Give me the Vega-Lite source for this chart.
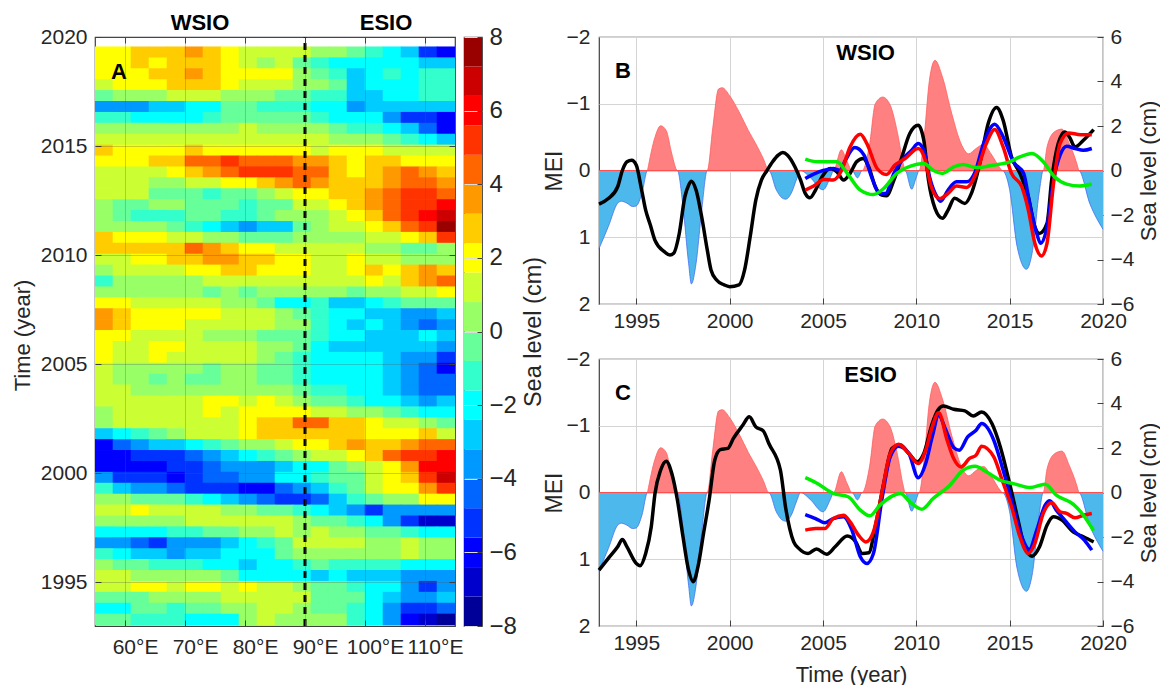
{"$schema":"https://vega.github.io/schema/vega-lite/v6.json","padding":{"left":10,"top":11,"right":0,"bottom":0},"background":"white","bounds":"flush","spacing":504,"config":{"font":"Liberation Sans","view":{"stroke":"#404040","strokeWidth":1.2},"axis":{"labelFont":"Liberation Sans","titleFont":"Liberation Sans","labelColor":"#262626","titleColor":"#262626","titleFontWeight":"normal","labelFontSize":21,"titleFontSize":22,"domain":false,"tickColor":"#404040","tickSize":-6,"labelPadding":12,"labelOverlap":false,"labelFlush":false}},"datasets":{"heat":[
{"x":56.5,"t":2019.3,"v":2},{"x":59.5,"t":2019.3,"v":2},{"x":62.5,"t":2019.3,"v":2.8},{"x":65.5,"t":2019.3,"v":2.8},{"x":68.5,"t":2019.3,"v":2.8},{"x":71.5,"t":2019.3,"v":3.6},{"x":74.5,"t":2019.3,"v":2.8},{"x":77.5,"t":2019.3,"v":2},{"x":80.5,"t":2019.3,"v":1.2},{"x":83.5,"t":2019.3,"v":1.2},{"x":86.5,"t":2019.3,"v":1.2},{"x":89.5,"t":2019.3,"v":1.2},{"x":92.5,"t":2019.3,"v":0.4},{"x":95.5,"t":2019.3,"v":0.4},{"x":98.5,"t":2019.3,"v":-0.4},{"x":101.5,"t":2019.3,"v":-1.2},{"x":104.5,"t":2019.3,"v":-2},{"x":107.5,"t":2019.3,"v":-2.8},{"x":110.5,"t":2019.3,"v":-5.2},{"x":113.5,"t":2019.3,"v":-6},
{"x":56.5,"t":2018.8,"v":2},{"x":59.5,"t":2018.8,"v":2},{"x":62.5,"t":2018.8,"v":2.8},{"x":65.5,"t":2018.8,"v":2},{"x":68.5,"t":2018.8,"v":2.8},{"x":71.5,"t":2018.8,"v":2.8},{"x":74.5,"t":2018.8,"v":2.8},{"x":77.5,"t":2018.8,"v":2},{"x":80.5,"t":2018.8,"v":1.2},{"x":83.5,"t":2018.8,"v":0.4},{"x":86.5,"t":2018.8,"v":1.2},{"x":89.5,"t":2018.8,"v":-0.4},{"x":92.5,"t":2018.8,"v":-1.2},{"x":95.5,"t":2018.8,"v":-2},{"x":98.5,"t":2018.8,"v":-2},{"x":101.5,"t":2018.8,"v":-2},{"x":104.5,"t":2018.8,"v":-2},{"x":107.5,"t":2018.8,"v":-2},{"x":110.5,"t":2018.8,"v":-2.8},{"x":113.5,"t":2018.8,"v":-2.8},
{"x":56.5,"t":2018.3,"v":2},{"x":59.5,"t":2018.3,"v":2},{"x":62.5,"t":2018.3,"v":2},{"x":65.5,"t":2018.3,"v":2.8},{"x":68.5,"t":2018.3,"v":2.8},{"x":71.5,"t":2018.3,"v":3.6},{"x":74.5,"t":2018.3,"v":2.8},{"x":77.5,"t":2018.3,"v":2},{"x":80.5,"t":2018.3,"v":2},{"x":83.5,"t":2018.3,"v":2},{"x":86.5,"t":2018.3,"v":2},{"x":89.5,"t":2018.3,"v":0.4},{"x":92.5,"t":2018.3,"v":-0.4},{"x":95.5,"t":2018.3,"v":-1.2},{"x":98.5,"t":2018.3,"v":-2.8},{"x":101.5,"t":2018.3,"v":-2},{"x":104.5,"t":2018.3,"v":-1.2},{"x":107.5,"t":2018.3,"v":-2},{"x":110.5,"t":2018.3,"v":-1.2},{"x":113.5,"t":2018.3,"v":-1.2},
{"x":56.5,"t":2017.8,"v":1.2},{"x":59.5,"t":2017.8,"v":2},{"x":62.5,"t":2017.8,"v":2},{"x":65.5,"t":2017.8,"v":2},{"x":68.5,"t":2017.8,"v":2.8},{"x":71.5,"t":2017.8,"v":2.8},{"x":74.5,"t":2017.8,"v":2.8},{"x":77.5,"t":2017.8,"v":2},{"x":80.5,"t":2017.8,"v":1.2},{"x":83.5,"t":2017.8,"v":1.2},{"x":86.5,"t":2017.8,"v":1.2},{"x":89.5,"t":2017.8,"v":0.4},{"x":92.5,"t":2017.8,"v":0.4},{"x":95.5,"t":2017.8,"v":-0.4},{"x":98.5,"t":2017.8,"v":-2.8},{"x":101.5,"t":2017.8,"v":-2},{"x":104.5,"t":2017.8,"v":-2},{"x":107.5,"t":2017.8,"v":-2},{"x":110.5,"t":2017.8,"v":-1.2},{"x":113.5,"t":2017.8,"v":-1.2},
{"x":56.5,"t":2017.3,"v":-0.4},{"x":59.5,"t":2017.3,"v":0.4},{"x":62.5,"t":2017.3,"v":0.4},{"x":65.5,"t":2017.3,"v":0.4},{"x":68.5,"t":2017.3,"v":1.2},{"x":71.5,"t":2017.3,"v":1.2},{"x":74.5,"t":2017.3,"v":1.2},{"x":77.5,"t":2017.3,"v":0.4},{"x":80.5,"t":2017.3,"v":0.4},{"x":83.5,"t":2017.3,"v":0.4},{"x":86.5,"t":2017.3,"v":-0.4},{"x":89.5,"t":2017.3,"v":-0.4},{"x":92.5,"t":2017.3,"v":-1.2},{"x":95.5,"t":2017.3,"v":-1.2},{"x":98.5,"t":2017.3,"v":-2.8},{"x":101.5,"t":2017.3,"v":-2.8},{"x":104.5,"t":2017.3,"v":-2},{"x":107.5,"t":2017.3,"v":-2},{"x":110.5,"t":2017.3,"v":-1.2},{"x":113.5,"t":2017.3,"v":-1.2},
{"x":56.5,"t":2016.8,"v":-3.6},{"x":59.5,"t":2016.8,"v":-3.6},{"x":62.5,"t":2016.8,"v":-3.6},{"x":65.5,"t":2016.8,"v":-2.8},{"x":68.5,"t":2016.8,"v":-2.8},{"x":71.5,"t":2016.8,"v":-2},{"x":74.5,"t":2016.8,"v":-2},{"x":77.5,"t":2016.8,"v":-0.4},{"x":80.5,"t":2016.8,"v":-0.4},{"x":83.5,"t":2016.8,"v":-1.2},{"x":86.5,"t":2016.8,"v":-1.2},{"x":89.5,"t":2016.8,"v":-1.2},{"x":92.5,"t":2016.8,"v":-2},{"x":95.5,"t":2016.8,"v":-2},{"x":98.5,"t":2016.8,"v":-3.6},{"x":101.5,"t":2016.8,"v":-2.8},{"x":104.5,"t":2016.8,"v":-2.8},{"x":107.5,"t":2016.8,"v":-2.8},{"x":110.5,"t":2016.8,"v":-2.8},{"x":113.5,"t":2016.8,"v":-2.8},
{"x":56.5,"t":2016.3,"v":-1.2},{"x":59.5,"t":2016.3,"v":-1.2},{"x":62.5,"t":2016.3,"v":-2},{"x":65.5,"t":2016.3,"v":-2},{"x":68.5,"t":2016.3,"v":-2},{"x":71.5,"t":2016.3,"v":-2},{"x":74.5,"t":2016.3,"v":-1.2},{"x":77.5,"t":2016.3,"v":-0.4},{"x":80.5,"t":2016.3,"v":-0.4},{"x":83.5,"t":2016.3,"v":-0.4},{"x":86.5,"t":2016.3,"v":-0.4},{"x":89.5,"t":2016.3,"v":-0.4},{"x":92.5,"t":2016.3,"v":-1.2},{"x":95.5,"t":2016.3,"v":-2},{"x":98.5,"t":2016.3,"v":-2},{"x":101.5,"t":2016.3,"v":-2},{"x":104.5,"t":2016.3,"v":-3.6},{"x":107.5,"t":2016.3,"v":-5.2},{"x":110.5,"t":2016.3,"v":-5.2},{"x":113.5,"t":2016.3,"v":-6},
{"x":56.5,"t":2015.8,"v":0.4},{"x":59.5,"t":2015.8,"v":0.4},{"x":62.5,"t":2015.8,"v":0.4},{"x":65.5,"t":2015.8,"v":0.4},{"x":68.5,"t":2015.8,"v":0.4},{"x":71.5,"t":2015.8,"v":0.4},{"x":74.5,"t":2015.8,"v":0.4},{"x":77.5,"t":2015.8,"v":0.4},{"x":80.5,"t":2015.8,"v":1.2},{"x":83.5,"t":2015.8,"v":0.4},{"x":86.5,"t":2015.8,"v":0.4},{"x":89.5,"t":2015.8,"v":0.4},{"x":92.5,"t":2015.8,"v":0.4},{"x":95.5,"t":2015.8,"v":-0.4},{"x":98.5,"t":2015.8,"v":-1.2},{"x":101.5,"t":2015.8,"v":-1.2},{"x":104.5,"t":2015.8,"v":-2},{"x":107.5,"t":2015.8,"v":-2.8},{"x":110.5,"t":2015.8,"v":-4.4},{"x":113.5,"t":2015.8,"v":-6},
{"x":56.5,"t":2015.3,"v":1.2},{"x":59.5,"t":2015.3,"v":1.2},{"x":62.5,"t":2015.3,"v":1.2},{"x":65.5,"t":2015.3,"v":1.2},{"x":68.5,"t":2015.3,"v":1.2},{"x":71.5,"t":2015.3,"v":1.2},{"x":74.5,"t":2015.3,"v":1.2},{"x":77.5,"t":2015.3,"v":1.2},{"x":80.5,"t":2015.3,"v":1.2},{"x":83.5,"t":2015.3,"v":1.2},{"x":86.5,"t":2015.3,"v":1.2},{"x":89.5,"t":2015.3,"v":1.2},{"x":92.5,"t":2015.3,"v":1.2},{"x":95.5,"t":2015.3,"v":0.4},{"x":98.5,"t":2015.3,"v":0.4},{"x":101.5,"t":2015.3,"v":0.4},{"x":104.5,"t":2015.3,"v":-0.4},{"x":107.5,"t":2015.3,"v":-1.2},{"x":110.5,"t":2015.3,"v":-2},{"x":113.5,"t":2015.3,"v":-2.8},
{"x":56.5,"t":2014.8,"v":2.8},{"x":59.5,"t":2014.8,"v":2},{"x":62.5,"t":2014.8,"v":2},{"x":65.5,"t":2014.8,"v":2},{"x":68.5,"t":2014.8,"v":2},{"x":71.5,"t":2014.8,"v":2.8},{"x":74.5,"t":2014.8,"v":2},{"x":77.5,"t":2014.8,"v":2},{"x":80.5,"t":2014.8,"v":2},{"x":83.5,"t":2014.8,"v":2},{"x":86.5,"t":2014.8,"v":2},{"x":89.5,"t":2014.8,"v":2},{"x":92.5,"t":2014.8,"v":1.2},{"x":95.5,"t":2014.8,"v":2},{"x":98.5,"t":2014.8,"v":2},{"x":101.5,"t":2014.8,"v":2},{"x":104.5,"t":2014.8,"v":1.2},{"x":107.5,"t":2014.8,"v":1.2},{"x":110.5,"t":2014.8,"v":1.2},{"x":113.5,"t":2014.8,"v":1.2},
{"x":56.5,"t":2014.3,"v":2},{"x":59.5,"t":2014.3,"v":2},{"x":62.5,"t":2014.3,"v":2},{"x":65.5,"t":2014.3,"v":2.8},{"x":68.5,"t":2014.3,"v":2.8},{"x":71.5,"t":2014.3,"v":4.4},{"x":74.5,"t":2014.3,"v":4.4},{"x":77.5,"t":2014.3,"v":5.2},{"x":80.5,"t":2014.3,"v":4.4},{"x":83.5,"t":2014.3,"v":4.4},{"x":86.5,"t":2014.3,"v":4.4},{"x":89.5,"t":2014.3,"v":3.6},{"x":92.5,"t":2014.3,"v":3.6},{"x":95.5,"t":2014.3,"v":2.8},{"x":98.5,"t":2014.3,"v":2},{"x":101.5,"t":2014.3,"v":2.8},{"x":104.5,"t":2014.3,"v":2.8},{"x":107.5,"t":2014.3,"v":2},{"x":110.5,"t":2014.3,"v":2},{"x":113.5,"t":2014.3,"v":2},
{"x":56.5,"t":2013.8,"v":1.2},{"x":59.5,"t":2013.8,"v":1.2},{"x":62.5,"t":2013.8,"v":1.2},{"x":65.5,"t":2013.8,"v":1.2},{"x":68.5,"t":2013.8,"v":2},{"x":71.5,"t":2013.8,"v":2.8},{"x":74.5,"t":2013.8,"v":3.6},{"x":77.5,"t":2013.8,"v":4.4},{"x":80.5,"t":2013.8,"v":5.2},{"x":83.5,"t":2013.8,"v":5.2},{"x":86.5,"t":2013.8,"v":5.2},{"x":89.5,"t":2013.8,"v":4.4},{"x":92.5,"t":2013.8,"v":4.4},{"x":95.5,"t":2013.8,"v":2.8},{"x":98.5,"t":2013.8,"v":2},{"x":101.5,"t":2013.8,"v":2.8},{"x":104.5,"t":2013.8,"v":3.6},{"x":107.5,"t":2013.8,"v":4.4},{"x":110.5,"t":2013.8,"v":3.6},{"x":113.5,"t":2013.8,"v":2.8},
{"x":56.5,"t":2013.3,"v":1.2},{"x":59.5,"t":2013.3,"v":1.2},{"x":62.5,"t":2013.3,"v":1.2},{"x":65.5,"t":2013.3,"v":0.4},{"x":68.5,"t":2013.3,"v":0.4},{"x":71.5,"t":2013.3,"v":1.2},{"x":74.5,"t":2013.3,"v":1.2},{"x":77.5,"t":2013.3,"v":2},{"x":80.5,"t":2013.3,"v":2},{"x":83.5,"t":2013.3,"v":2.8},{"x":86.5,"t":2013.3,"v":3.6},{"x":89.5,"t":2013.3,"v":4.4},{"x":92.5,"t":2013.3,"v":3.6},{"x":95.5,"t":2013.3,"v":2.8},{"x":98.5,"t":2013.3,"v":2.8},{"x":101.5,"t":2013.3,"v":2.8},{"x":104.5,"t":2013.3,"v":3.6},{"x":107.5,"t":2013.3,"v":4.4},{"x":110.5,"t":2013.3,"v":4.4},{"x":113.5,"t":2013.3,"v":3.6},
{"x":56.5,"t":2012.8,"v":1.2},{"x":59.5,"t":2012.8,"v":1.2},{"x":62.5,"t":2012.8,"v":1.2},{"x":65.5,"t":2012.8,"v":-0.4},{"x":68.5,"t":2012.8,"v":-0.4},{"x":71.5,"t":2012.8,"v":-0.4},{"x":74.5,"t":2012.8,"v":-1.2},{"x":77.5,"t":2012.8,"v":-0.4},{"x":80.5,"t":2012.8,"v":-0.4},{"x":83.5,"t":2012.8,"v":0.4},{"x":86.5,"t":2012.8,"v":1.2},{"x":89.5,"t":2012.8,"v":2},{"x":92.5,"t":2012.8,"v":2},{"x":95.5,"t":2012.8,"v":2.8},{"x":98.5,"t":2012.8,"v":2.8},{"x":101.5,"t":2012.8,"v":3.6},{"x":104.5,"t":2012.8,"v":4.4},{"x":107.5,"t":2012.8,"v":5.2},{"x":110.5,"t":2012.8,"v":5.2},{"x":113.5,"t":2012.8,"v":4.4},
{"x":56.5,"t":2012.3,"v":0.4},{"x":59.5,"t":2012.3,"v":-0.4},{"x":62.5,"t":2012.3,"v":-0.4},{"x":65.5,"t":2012.3,"v":0.4},{"x":68.5,"t":2012.3,"v":0.4},{"x":71.5,"t":2012.3,"v":-0.4},{"x":74.5,"t":2012.3,"v":-0.4},{"x":77.5,"t":2012.3,"v":-0.4},{"x":80.5,"t":2012.3,"v":-1.2},{"x":83.5,"t":2012.3,"v":-0.4},{"x":86.5,"t":2012.3,"v":-0.4},{"x":89.5,"t":2012.3,"v":1.2},{"x":92.5,"t":2012.3,"v":1.2},{"x":95.5,"t":2012.3,"v":2},{"x":98.5,"t":2012.3,"v":2.8},{"x":101.5,"t":2012.3,"v":3.6},{"x":104.5,"t":2012.3,"v":4.4},{"x":107.5,"t":2012.3,"v":5.2},{"x":110.5,"t":2012.3,"v":5.2},{"x":113.5,"t":2012.3,"v":6},
{"x":56.5,"t":2011.8,"v":0.4},{"x":59.5,"t":2011.8,"v":-0.4},{"x":62.5,"t":2011.8,"v":-1.2},{"x":65.5,"t":2011.8,"v":-1.2},{"x":68.5,"t":2011.8,"v":-1.2},{"x":71.5,"t":2011.8,"v":-0.4},{"x":74.5,"t":2011.8,"v":-0.4},{"x":77.5,"t":2011.8,"v":-1.2},{"x":80.5,"t":2011.8,"v":-1.2},{"x":83.5,"t":2011.8,"v":-0.4},{"x":86.5,"t":2011.8,"v":0.4},{"x":89.5,"t":2011.8,"v":0.4},{"x":92.5,"t":2011.8,"v":0.4},{"x":95.5,"t":2011.8,"v":1.2},{"x":98.5,"t":2011.8,"v":2},{"x":101.5,"t":2011.8,"v":2.8},{"x":104.5,"t":2011.8,"v":4.4},{"x":107.5,"t":2011.8,"v":5.2},{"x":110.5,"t":2011.8,"v":6},{"x":113.5,"t":2011.8,"v":6.8},
{"x":56.5,"t":2011.3,"v":0.4},{"x":59.5,"t":2011.3,"v":0.4},{"x":62.5,"t":2011.3,"v":0.4},{"x":65.5,"t":2011.3,"v":0.4},{"x":68.5,"t":2011.3,"v":-0.4},{"x":71.5,"t":2011.3,"v":-1.2},{"x":74.5,"t":2011.3,"v":-2},{"x":77.5,"t":2011.3,"v":-2.8},{"x":80.5,"t":2011.3,"v":-3.6},{"x":83.5,"t":2011.3,"v":-2.8},{"x":86.5,"t":2011.3,"v":-2.8},{"x":89.5,"t":2011.3,"v":-0.4},{"x":92.5,"t":2011.3,"v":0.4},{"x":95.5,"t":2011.3,"v":1.2},{"x":98.5,"t":2011.3,"v":1.2},{"x":101.5,"t":2011.3,"v":2},{"x":104.5,"t":2011.3,"v":2.8},{"x":107.5,"t":2011.3,"v":4.4},{"x":110.5,"t":2011.3,"v":5.2},{"x":113.5,"t":2011.3,"v":7.6},
{"x":56.5,"t":2010.8,"v":2.8},{"x":59.5,"t":2010.8,"v":2},{"x":62.5,"t":2010.8,"v":2},{"x":65.5,"t":2010.8,"v":2},{"x":68.5,"t":2010.8,"v":1.2},{"x":71.5,"t":2010.8,"v":1.2},{"x":74.5,"t":2010.8,"v":0.4},{"x":77.5,"t":2010.8,"v":0.4},{"x":80.5,"t":2010.8,"v":-0.4},{"x":83.5,"t":2010.8,"v":-0.4},{"x":86.5,"t":2010.8,"v":-0.4},{"x":89.5,"t":2010.8,"v":0.4},{"x":92.5,"t":2010.8,"v":0.4},{"x":95.5,"t":2010.8,"v":0.4},{"x":98.5,"t":2010.8,"v":0.4},{"x":101.5,"t":2010.8,"v":1.2},{"x":104.5,"t":2010.8,"v":1.2},{"x":107.5,"t":2010.8,"v":2},{"x":110.5,"t":2010.8,"v":2.8},{"x":113.5,"t":2010.8,"v":5.2},
{"x":56.5,"t":2010.3,"v":2.8},{"x":59.5,"t":2010.3,"v":2.8},{"x":62.5,"t":2010.3,"v":2.8},{"x":65.5,"t":2010.3,"v":2.8},{"x":68.5,"t":2010.3,"v":2.8},{"x":71.5,"t":2010.3,"v":4.4},{"x":74.5,"t":2010.3,"v":3.6},{"x":77.5,"t":2010.3,"v":2.8},{"x":80.5,"t":2010.3,"v":2},{"x":83.5,"t":2010.3,"v":2},{"x":86.5,"t":2010.3,"v":1.2},{"x":89.5,"t":2010.3,"v":1.2},{"x":92.5,"t":2010.3,"v":1.2},{"x":95.5,"t":2010.3,"v":1.2},{"x":98.5,"t":2010.3,"v":1.2},{"x":101.5,"t":2010.3,"v":0.4},{"x":104.5,"t":2010.3,"v":0.4},{"x":107.5,"t":2010.3,"v":-0.4},{"x":110.5,"t":2010.3,"v":-0.4},{"x":113.5,"t":2010.3,"v":0.4},
{"x":56.5,"t":2009.8,"v":1.2},{"x":59.5,"t":2009.8,"v":1.2},{"x":62.5,"t":2009.8,"v":2},{"x":65.5,"t":2009.8,"v":2},{"x":68.5,"t":2009.8,"v":2.8},{"x":71.5,"t":2009.8,"v":2.8},{"x":74.5,"t":2009.8,"v":3.6},{"x":77.5,"t":2009.8,"v":3.6},{"x":80.5,"t":2009.8,"v":2.8},{"x":83.5,"t":2009.8,"v":2.8},{"x":86.5,"t":2009.8,"v":2},{"x":89.5,"t":2009.8,"v":2},{"x":92.5,"t":2009.8,"v":1.2},{"x":95.5,"t":2009.8,"v":1.2},{"x":98.5,"t":2009.8,"v":2},{"x":101.5,"t":2009.8,"v":1.2},{"x":104.5,"t":2009.8,"v":1.2},{"x":107.5,"t":2009.8,"v":0.4},{"x":110.5,"t":2009.8,"v":0.4},{"x":113.5,"t":2009.8,"v":0.4},
{"x":56.5,"t":2009.3,"v":0.4},{"x":59.5,"t":2009.3,"v":1.2},{"x":62.5,"t":2009.3,"v":1.2},{"x":65.5,"t":2009.3,"v":1.2},{"x":68.5,"t":2009.3,"v":1.2},{"x":71.5,"t":2009.3,"v":2},{"x":74.5,"t":2009.3,"v":2},{"x":77.5,"t":2009.3,"v":2.8},{"x":80.5,"t":2009.3,"v":2.8},{"x":83.5,"t":2009.3,"v":2},{"x":86.5,"t":2009.3,"v":2},{"x":89.5,"t":2009.3,"v":2},{"x":92.5,"t":2009.3,"v":1.2},{"x":95.5,"t":2009.3,"v":1.2},{"x":98.5,"t":2009.3,"v":2},{"x":101.5,"t":2009.3,"v":2.8},{"x":104.5,"t":2009.3,"v":2},{"x":107.5,"t":2009.3,"v":2.8},{"x":110.5,"t":2009.3,"v":3.6},{"x":113.5,"t":2009.3,"v":2.8},
{"x":56.5,"t":2008.8,"v":-1.2},{"x":59.5,"t":2008.8,"v":0.4},{"x":62.5,"t":2008.8,"v":0.4},{"x":65.5,"t":2008.8,"v":0.4},{"x":68.5,"t":2008.8,"v":0.4},{"x":71.5,"t":2008.8,"v":0.4},{"x":74.5,"t":2008.8,"v":1.2},{"x":77.5,"t":2008.8,"v":1.2},{"x":80.5,"t":2008.8,"v":1.2},{"x":83.5,"t":2008.8,"v":1.2},{"x":86.5,"t":2008.8,"v":1.2},{"x":89.5,"t":2008.8,"v":1.2},{"x":92.5,"t":2008.8,"v":1.2},{"x":95.5,"t":2008.8,"v":1.2},{"x":98.5,"t":2008.8,"v":1.2},{"x":101.5,"t":2008.8,"v":2},{"x":104.5,"t":2008.8,"v":1.2},{"x":107.5,"t":2008.8,"v":2.8},{"x":110.5,"t":2008.8,"v":3.6},{"x":113.5,"t":2008.8,"v":4.4},
{"x":56.5,"t":2008.3,"v":0.4},{"x":59.5,"t":2008.3,"v":0.4},{"x":62.5,"t":2008.3,"v":0.4},{"x":65.5,"t":2008.3,"v":0.4},{"x":68.5,"t":2008.3,"v":0.4},{"x":71.5,"t":2008.3,"v":0.4},{"x":74.5,"t":2008.3,"v":-0.4},{"x":77.5,"t":2008.3,"v":0.4},{"x":80.5,"t":2008.3,"v":-0.4},{"x":83.5,"t":2008.3,"v":0.4},{"x":86.5,"t":2008.3,"v":0.4},{"x":89.5,"t":2008.3,"v":0.4},{"x":92.5,"t":2008.3,"v":0.4},{"x":95.5,"t":2008.3,"v":0.4},{"x":98.5,"t":2008.3,"v":-0.4},{"x":101.5,"t":2008.3,"v":0.4},{"x":104.5,"t":2008.3,"v":0.4},{"x":107.5,"t":2008.3,"v":1.2},{"x":110.5,"t":2008.3,"v":1.2},{"x":113.5,"t":2008.3,"v":2},
{"x":56.5,"t":2007.8,"v":2},{"x":59.5,"t":2007.8,"v":2},{"x":62.5,"t":2007.8,"v":1.2},{"x":65.5,"t":2007.8,"v":1.2},{"x":68.5,"t":2007.8,"v":1.2},{"x":71.5,"t":2007.8,"v":1.2},{"x":74.5,"t":2007.8,"v":1.2},{"x":77.5,"t":2007.8,"v":0.4},{"x":80.5,"t":2007.8,"v":0.4},{"x":83.5,"t":2007.8,"v":-0.4},{"x":86.5,"t":2007.8,"v":-2},{"x":89.5,"t":2007.8,"v":-2},{"x":92.5,"t":2007.8,"v":-1.2},{"x":95.5,"t":2007.8,"v":-2.8},{"x":98.5,"t":2007.8,"v":-2.8},{"x":101.5,"t":2007.8,"v":-2},{"x":104.5,"t":2007.8,"v":-1.2},{"x":107.5,"t":2007.8,"v":-0.4},{"x":110.5,"t":2007.8,"v":-0.4},{"x":113.5,"t":2007.8,"v":-0.4},
{"x":56.5,"t":2007.3,"v":3.6},{"x":59.5,"t":2007.3,"v":2.8},{"x":62.5,"t":2007.3,"v":2},{"x":65.5,"t":2007.3,"v":2},{"x":68.5,"t":2007.3,"v":2},{"x":71.5,"t":2007.3,"v":2},{"x":74.5,"t":2007.3,"v":2},{"x":77.5,"t":2007.3,"v":1.2},{"x":80.5,"t":2007.3,"v":1.2},{"x":83.5,"t":2007.3,"v":1.2},{"x":86.5,"t":2007.3,"v":0.4},{"x":89.5,"t":2007.3,"v":-0.4},{"x":92.5,"t":2007.3,"v":-1.2},{"x":95.5,"t":2007.3,"v":-2},{"x":98.5,"t":2007.3,"v":-2},{"x":101.5,"t":2007.3,"v":-2.8},{"x":104.5,"t":2007.3,"v":-2.8},{"x":107.5,"t":2007.3,"v":-3.6},{"x":110.5,"t":2007.3,"v":-3.6},{"x":113.5,"t":2007.3,"v":-2.8},
{"x":56.5,"t":2006.8,"v":3.6},{"x":59.5,"t":2006.8,"v":2.8},{"x":62.5,"t":2006.8,"v":2},{"x":65.5,"t":2006.8,"v":2},{"x":68.5,"t":2006.8,"v":2},{"x":71.5,"t":2006.8,"v":1.2},{"x":74.5,"t":2006.8,"v":1.2},{"x":77.5,"t":2006.8,"v":1.2},{"x":80.5,"t":2006.8,"v":1.2},{"x":83.5,"t":2006.8,"v":1.2},{"x":86.5,"t":2006.8,"v":0.4},{"x":89.5,"t":2006.8,"v":0.4},{"x":92.5,"t":2006.8,"v":-1.2},{"x":95.5,"t":2006.8,"v":-2},{"x":98.5,"t":2006.8,"v":-2.8},{"x":101.5,"t":2006.8,"v":-2},{"x":104.5,"t":2006.8,"v":-2.8},{"x":107.5,"t":2006.8,"v":-3.6},{"x":110.5,"t":2006.8,"v":-4.4},{"x":113.5,"t":2006.8,"v":-3.6},
{"x":56.5,"t":2006.3,"v":2},{"x":59.5,"t":2006.3,"v":2},{"x":62.5,"t":2006.3,"v":1.2},{"x":65.5,"t":2006.3,"v":1.2},{"x":68.5,"t":2006.3,"v":1.2},{"x":71.5,"t":2006.3,"v":1.2},{"x":74.5,"t":2006.3,"v":0.4},{"x":77.5,"t":2006.3,"v":0.4},{"x":80.5,"t":2006.3,"v":0.4},{"x":83.5,"t":2006.3,"v":-0.4},{"x":86.5,"t":2006.3,"v":-0.4},{"x":89.5,"t":2006.3,"v":-0.4},{"x":92.5,"t":2006.3,"v":-1.2},{"x":95.5,"t":2006.3,"v":-2},{"x":98.5,"t":2006.3,"v":-2},{"x":101.5,"t":2006.3,"v":-2.8},{"x":104.5,"t":2006.3,"v":-2.8},{"x":107.5,"t":2006.3,"v":-2.8},{"x":110.5,"t":2006.3,"v":-2},{"x":113.5,"t":2006.3,"v":-2.8},
{"x":56.5,"t":2005.8,"v":2},{"x":59.5,"t":2005.8,"v":1.2},{"x":62.5,"t":2005.8,"v":1.2},{"x":65.5,"t":2005.8,"v":2},{"x":68.5,"t":2005.8,"v":2},{"x":71.5,"t":2005.8,"v":1.2},{"x":74.5,"t":2005.8,"v":1.2},{"x":77.5,"t":2005.8,"v":1.2},{"x":80.5,"t":2005.8,"v":1.2},{"x":83.5,"t":2005.8,"v":0.4},{"x":86.5,"t":2005.8,"v":0.4},{"x":89.5,"t":2005.8,"v":-0.4},{"x":92.5,"t":2005.8,"v":-2},{"x":95.5,"t":2005.8,"v":-2.8},{"x":98.5,"t":2005.8,"v":-2.8},{"x":101.5,"t":2005.8,"v":-2.8},{"x":104.5,"t":2005.8,"v":-2.8},{"x":107.5,"t":2005.8,"v":-2.8},{"x":110.5,"t":2005.8,"v":-2.8},{"x":113.5,"t":2005.8,"v":-3.6},
{"x":56.5,"t":2005.3,"v":2},{"x":59.5,"t":2005.3,"v":1.2},{"x":62.5,"t":2005.3,"v":1.2},{"x":65.5,"t":2005.3,"v":2},{"x":68.5,"t":2005.3,"v":1.2},{"x":71.5,"t":2005.3,"v":1.2},{"x":74.5,"t":2005.3,"v":1.2},{"x":77.5,"t":2005.3,"v":1.2},{"x":80.5,"t":2005.3,"v":1.2},{"x":83.5,"t":2005.3,"v":0.4},{"x":86.5,"t":2005.3,"v":-0.4},{"x":89.5,"t":2005.3,"v":-1.2},{"x":92.5,"t":2005.3,"v":-2},{"x":95.5,"t":2005.3,"v":-2},{"x":98.5,"t":2005.3,"v":-2},{"x":101.5,"t":2005.3,"v":-2},{"x":104.5,"t":2005.3,"v":-2.8},{"x":107.5,"t":2005.3,"v":-3.6},{"x":110.5,"t":2005.3,"v":-3.6},{"x":113.5,"t":2005.3,"v":-5.2},
{"x":56.5,"t":2004.8,"v":1.2},{"x":59.5,"t":2004.8,"v":0.4},{"x":62.5,"t":2004.8,"v":0.4},{"x":65.5,"t":2004.8,"v":0.4},{"x":68.5,"t":2004.8,"v":0.4},{"x":71.5,"t":2004.8,"v":0.4},{"x":74.5,"t":2004.8,"v":-0.4},{"x":77.5,"t":2004.8,"v":0.4},{"x":80.5,"t":2004.8,"v":0.4},{"x":83.5,"t":2004.8,"v":-0.4},{"x":86.5,"t":2004.8,"v":-0.4},{"x":89.5,"t":2004.8,"v":-1.2},{"x":92.5,"t":2004.8,"v":-2},{"x":95.5,"t":2004.8,"v":-2},{"x":98.5,"t":2004.8,"v":-2},{"x":101.5,"t":2004.8,"v":-2},{"x":104.5,"t":2004.8,"v":-2.8},{"x":107.5,"t":2004.8,"v":-3.6},{"x":110.5,"t":2004.8,"v":-4.4},{"x":113.5,"t":2004.8,"v":-6},
{"x":56.5,"t":2004.3,"v":1.2},{"x":59.5,"t":2004.3,"v":0.4},{"x":62.5,"t":2004.3,"v":0.4},{"x":65.5,"t":2004.3,"v":-0.4},{"x":68.5,"t":2004.3,"v":0.4},{"x":71.5,"t":2004.3,"v":-0.4},{"x":74.5,"t":2004.3,"v":-0.4},{"x":77.5,"t":2004.3,"v":0.4},{"x":80.5,"t":2004.3,"v":0.4},{"x":83.5,"t":2004.3,"v":-0.4},{"x":86.5,"t":2004.3,"v":-0.4},{"x":89.5,"t":2004.3,"v":-1.2},{"x":92.5,"t":2004.3,"v":-2},{"x":95.5,"t":2004.3,"v":-2},{"x":98.5,"t":2004.3,"v":-2},{"x":101.5,"t":2004.3,"v":-2},{"x":104.5,"t":2004.3,"v":-2.8},{"x":107.5,"t":2004.3,"v":-3.6},{"x":110.5,"t":2004.3,"v":-4.4},{"x":113.5,"t":2004.3,"v":-4.4},
{"x":56.5,"t":2003.8,"v":1.2},{"x":59.5,"t":2003.8,"v":1.2},{"x":62.5,"t":2003.8,"v":0.4},{"x":65.5,"t":2003.8,"v":0.4},{"x":68.5,"t":2003.8,"v":0.4},{"x":71.5,"t":2003.8,"v":0.4},{"x":74.5,"t":2003.8,"v":0.4},{"x":77.5,"t":2003.8,"v":0.4},{"x":80.5,"t":2003.8,"v":0.4},{"x":83.5,"t":2003.8,"v":0.4},{"x":86.5,"t":2003.8,"v":0.4},{"x":89.5,"t":2003.8,"v":-0.4},{"x":92.5,"t":2003.8,"v":-1.2},{"x":95.5,"t":2003.8,"v":-1.2},{"x":98.5,"t":2003.8,"v":-2},{"x":101.5,"t":2003.8,"v":-2},{"x":104.5,"t":2003.8,"v":-2.8},{"x":107.5,"t":2003.8,"v":-3.6},{"x":110.5,"t":2003.8,"v":-4.4},{"x":113.5,"t":2003.8,"v":-4.4},
{"x":56.5,"t":2003.3,"v":1.2},{"x":59.5,"t":2003.3,"v":1.2},{"x":62.5,"t":2003.3,"v":1.2},{"x":65.5,"t":2003.3,"v":1.2},{"x":68.5,"t":2003.3,"v":1.2},{"x":71.5,"t":2003.3,"v":1.2},{"x":74.5,"t":2003.3,"v":2},{"x":77.5,"t":2003.3,"v":2},{"x":80.5,"t":2003.3,"v":1.2},{"x":83.5,"t":2003.3,"v":2},{"x":86.5,"t":2003.3,"v":1.2},{"x":89.5,"t":2003.3,"v":0.4},{"x":92.5,"t":2003.3,"v":-0.4},{"x":95.5,"t":2003.3,"v":-0.4},{"x":98.5,"t":2003.3,"v":-1.2},{"x":101.5,"t":2003.3,"v":-2},{"x":104.5,"t":2003.3,"v":-2},{"x":107.5,"t":2003.3,"v":-2.8},{"x":110.5,"t":2003.3,"v":-3.6},{"x":113.5,"t":2003.3,"v":-2.8},
{"x":56.5,"t":2002.8,"v":0.4},{"x":59.5,"t":2002.8,"v":1.2},{"x":62.5,"t":2002.8,"v":1.2},{"x":65.5,"t":2002.8,"v":1.2},{"x":68.5,"t":2002.8,"v":1.2},{"x":71.5,"t":2002.8,"v":1.2},{"x":74.5,"t":2002.8,"v":2},{"x":77.5,"t":2002.8,"v":1.2},{"x":80.5,"t":2002.8,"v":2},{"x":83.5,"t":2002.8,"v":2},{"x":86.5,"t":2002.8,"v":2},{"x":89.5,"t":2002.8,"v":2},{"x":92.5,"t":2002.8,"v":1.2},{"x":95.5,"t":2002.8,"v":1.2},{"x":98.5,"t":2002.8,"v":0.4},{"x":101.5,"t":2002.8,"v":0.4},{"x":104.5,"t":2002.8,"v":-0.4},{"x":107.5,"t":2002.8,"v":-1.2},{"x":110.5,"t":2002.8,"v":-2},{"x":113.5,"t":2002.8,"v":-2},
{"x":56.5,"t":2002.3,"v":0.4},{"x":59.5,"t":2002.3,"v":1.2},{"x":62.5,"t":2002.3,"v":1.2},{"x":65.5,"t":2002.3,"v":1.2},{"x":68.5,"t":2002.3,"v":1.2},{"x":71.5,"t":2002.3,"v":1.2},{"x":74.5,"t":2002.3,"v":1.2},{"x":77.5,"t":2002.3,"v":1.2},{"x":80.5,"t":2002.3,"v":2},{"x":83.5,"t":2002.3,"v":2.8},{"x":86.5,"t":2002.3,"v":2.8},{"x":89.5,"t":2002.3,"v":4.4},{"x":92.5,"t":2002.3,"v":4.4},{"x":95.5,"t":2002.3,"v":2.8},{"x":98.5,"t":2002.3,"v":2.8},{"x":101.5,"t":2002.3,"v":2},{"x":104.5,"t":2002.3,"v":1.2},{"x":107.5,"t":2002.3,"v":1.2},{"x":110.5,"t":2002.3,"v":0.4},{"x":113.5,"t":2002.3,"v":-0.4},
{"x":56.5,"t":2001.8,"v":-2.8},{"x":59.5,"t":2001.8,"v":-2},{"x":62.5,"t":2001.8,"v":-1.2},{"x":65.5,"t":2001.8,"v":-0.4},{"x":68.5,"t":2001.8,"v":0.4},{"x":71.5,"t":2001.8,"v":1.2},{"x":74.5,"t":2001.8,"v":1.2},{"x":77.5,"t":2001.8,"v":1.2},{"x":80.5,"t":2001.8,"v":2},{"x":83.5,"t":2001.8,"v":2.8},{"x":86.5,"t":2001.8,"v":2.8},{"x":89.5,"t":2001.8,"v":2.8},{"x":92.5,"t":2001.8,"v":2.8},{"x":95.5,"t":2001.8,"v":2.8},{"x":98.5,"t":2001.8,"v":2.8},{"x":101.5,"t":2001.8,"v":2},{"x":104.5,"t":2001.8,"v":2},{"x":107.5,"t":2001.8,"v":2},{"x":110.5,"t":2001.8,"v":2.8},{"x":113.5,"t":2001.8,"v":1.2},
{"x":56.5,"t":2001.3,"v":-6},{"x":59.5,"t":2001.3,"v":-4.4},{"x":62.5,"t":2001.3,"v":-3.6},{"x":65.5,"t":2001.3,"v":-2.8},{"x":68.5,"t":2001.3,"v":-2.8},{"x":71.5,"t":2001.3,"v":-2},{"x":74.5,"t":2001.3,"v":-1.2},{"x":77.5,"t":2001.3,"v":-0.4},{"x":80.5,"t":2001.3,"v":0.4},{"x":83.5,"t":2001.3,"v":0.4},{"x":86.5,"t":2001.3,"v":1.2},{"x":89.5,"t":2001.3,"v":2},{"x":92.5,"t":2001.3,"v":2},{"x":95.5,"t":2001.3,"v":2.8},{"x":98.5,"t":2001.3,"v":3.6},{"x":101.5,"t":2001.3,"v":2.8},{"x":104.5,"t":2001.3,"v":2.8},{"x":107.5,"t":2001.3,"v":3.6},{"x":110.5,"t":2001.3,"v":4.4},{"x":113.5,"t":2001.3,"v":4.4},
{"x":56.5,"t":2000.8,"v":-6},{"x":59.5,"t":2000.8,"v":-6},{"x":62.5,"t":2000.8,"v":-5.2},{"x":65.5,"t":2000.8,"v":-5.2},{"x":68.5,"t":2000.8,"v":-5.2},{"x":71.5,"t":2000.8,"v":-4.4},{"x":74.5,"t":2000.8,"v":-3.6},{"x":77.5,"t":2000.8,"v":-2.8},{"x":80.5,"t":2000.8,"v":-2},{"x":83.5,"t":2000.8,"v":-1.2},{"x":86.5,"t":2000.8,"v":-0.4},{"x":89.5,"t":2000.8,"v":0.4},{"x":92.5,"t":2000.8,"v":1.2},{"x":95.5,"t":2000.8,"v":1.2},{"x":98.5,"t":2000.8,"v":2},{"x":101.5,"t":2000.8,"v":2.8},{"x":104.5,"t":2000.8,"v":4.4},{"x":107.5,"t":2000.8,"v":5.2},{"x":110.5,"t":2000.8,"v":5.2},{"x":113.5,"t":2000.8,"v":6},
{"x":56.5,"t":2000.3,"v":-6},{"x":59.5,"t":2000.3,"v":-6},{"x":62.5,"t":2000.3,"v":-6},{"x":65.5,"t":2000.3,"v":-6},{"x":68.5,"t":2000.3,"v":-5.2},{"x":71.5,"t":2000.3,"v":-5.2},{"x":74.5,"t":2000.3,"v":-4.4},{"x":77.5,"t":2000.3,"v":-3.6},{"x":80.5,"t":2000.3,"v":-3.6},{"x":83.5,"t":2000.3,"v":-3.6},{"x":86.5,"t":2000.3,"v":-2.8},{"x":89.5,"t":2000.3,"v":-2},{"x":92.5,"t":2000.3,"v":-2},{"x":95.5,"t":2000.3,"v":-0.4},{"x":98.5,"t":2000.3,"v":0.4},{"x":101.5,"t":2000.3,"v":1.2},{"x":104.5,"t":2000.3,"v":2},{"x":107.5,"t":2000.3,"v":3.6},{"x":110.5,"t":2000.3,"v":6},{"x":113.5,"t":2000.3,"v":6},
{"x":56.5,"t":1999.8,"v":-3.6},{"x":59.5,"t":1999.8,"v":-5.2},{"x":62.5,"t":1999.8,"v":-5.2},{"x":65.5,"t":1999.8,"v":-5.2},{"x":68.5,"t":1999.8,"v":-6},{"x":71.5,"t":1999.8,"v":-5.2},{"x":74.5,"t":1999.8,"v":-4.4},{"x":77.5,"t":1999.8,"v":-4.4},{"x":80.5,"t":1999.8,"v":-3.6},{"x":83.5,"t":1999.8,"v":-3.6},{"x":86.5,"t":1999.8,"v":-2},{"x":89.5,"t":1999.8,"v":-2},{"x":92.5,"t":1999.8,"v":-1.2},{"x":95.5,"t":1999.8,"v":-0.4},{"x":98.5,"t":1999.8,"v":-0.4},{"x":101.5,"t":1999.8,"v":1.2},{"x":104.5,"t":1999.8,"v":2},{"x":107.5,"t":1999.8,"v":2.8},{"x":110.5,"t":1999.8,"v":5.2},{"x":113.5,"t":1999.8,"v":6.8},
{"x":56.5,"t":1999.3,"v":-1.2},{"x":59.5,"t":1999.3,"v":-2.8},{"x":62.5,"t":1999.3,"v":-3.6},{"x":65.5,"t":1999.3,"v":-3.6},{"x":68.5,"t":1999.3,"v":-4.4},{"x":71.5,"t":1999.3,"v":-5.2},{"x":74.5,"t":1999.3,"v":-5.2},{"x":77.5,"t":1999.3,"v":-5.2},{"x":80.5,"t":1999.3,"v":-6},{"x":83.5,"t":1999.3,"v":-6},{"x":86.5,"t":1999.3,"v":-4.4},{"x":89.5,"t":1999.3,"v":-3.6},{"x":92.5,"t":1999.3,"v":-2.8},{"x":95.5,"t":1999.3,"v":-1.2},{"x":98.5,"t":1999.3,"v":-0.4},{"x":101.5,"t":1999.3,"v":1.2},{"x":104.5,"t":1999.3,"v":2},{"x":107.5,"t":1999.3,"v":2},{"x":110.5,"t":1999.3,"v":3.6},{"x":113.5,"t":1999.3,"v":5.2},
{"x":56.5,"t":1998.8,"v":0.4},{"x":59.5,"t":1998.8,"v":0.4},{"x":62.5,"t":1998.8,"v":-0.4},{"x":65.5,"t":1998.8,"v":-0.4},{"x":68.5,"t":1998.8,"v":-0.4},{"x":71.5,"t":1998.8,"v":-1.2},{"x":74.5,"t":1998.8,"v":-2},{"x":77.5,"t":1998.8,"v":-2.8},{"x":80.5,"t":1998.8,"v":-3.6},{"x":83.5,"t":1998.8,"v":-4.4},{"x":86.5,"t":1998.8,"v":-5.2},{"x":89.5,"t":1998.8,"v":-5.2},{"x":92.5,"t":1998.8,"v":-4.4},{"x":95.5,"t":1998.8,"v":-2.8},{"x":98.5,"t":1998.8,"v":-1.2},{"x":101.5,"t":1998.8,"v":-0.4},{"x":104.5,"t":1998.8,"v":0.4},{"x":107.5,"t":1998.8,"v":0.4},{"x":110.5,"t":1998.8,"v":2},{"x":113.5,"t":1998.8,"v":2},
{"x":56.5,"t":1998.3,"v":1.2},{"x":59.5,"t":1998.3,"v":1.2},{"x":62.5,"t":1998.3,"v":2},{"x":65.5,"t":1998.3,"v":1.2},{"x":68.5,"t":1998.3,"v":1.2},{"x":71.5,"t":1998.3,"v":1.2},{"x":74.5,"t":1998.3,"v":1.2},{"x":77.5,"t":1998.3,"v":0.4},{"x":80.5,"t":1998.3,"v":0.4},{"x":83.5,"t":1998.3,"v":-0.4},{"x":86.5,"t":1998.3,"v":-0.4},{"x":89.5,"t":1998.3,"v":-1.2},{"x":92.5,"t":1998.3,"v":-2},{"x":95.5,"t":1998.3,"v":-2.8},{"x":98.5,"t":1998.3,"v":-3.6},{"x":101.5,"t":1998.3,"v":-5.2},{"x":104.5,"t":1998.3,"v":-3.6},{"x":107.5,"t":1998.3,"v":-3.6},{"x":110.5,"t":1998.3,"v":-3.6},{"x":113.5,"t":1998.3,"v":-3.6},
{"x":56.5,"t":1997.8,"v":0.4},{"x":59.5,"t":1997.8,"v":0.4},{"x":62.5,"t":1997.8,"v":0.4},{"x":65.5,"t":1997.8,"v":0.4},{"x":68.5,"t":1997.8,"v":0.4},{"x":71.5,"t":1997.8,"v":1.2},{"x":74.5,"t":1997.8,"v":1.2},{"x":77.5,"t":1997.8,"v":1.2},{"x":80.5,"t":1997.8,"v":1.2},{"x":83.5,"t":1997.8,"v":1.2},{"x":86.5,"t":1997.8,"v":1.2},{"x":89.5,"t":1997.8,"v":0.4},{"x":92.5,"t":1997.8,"v":-0.4},{"x":95.5,"t":1997.8,"v":-0.4},{"x":98.5,"t":1997.8,"v":-1.2},{"x":101.5,"t":1997.8,"v":-2},{"x":104.5,"t":1997.8,"v":-3.6},{"x":107.5,"t":1997.8,"v":-5.2},{"x":110.5,"t":1997.8,"v":-6.8},{"x":113.5,"t":1997.8,"v":-6.8},
{"x":56.5,"t":1997.3,"v":-2},{"x":59.5,"t":1997.3,"v":-2},{"x":62.5,"t":1997.3,"v":-2},{"x":65.5,"t":1997.3,"v":-2},{"x":68.5,"t":1997.3,"v":-1.2},{"x":71.5,"t":1997.3,"v":-1.2},{"x":74.5,"t":1997.3,"v":-0.4},{"x":77.5,"t":1997.3,"v":-0.4},{"x":80.5,"t":1997.3,"v":0.4},{"x":83.5,"t":1997.3,"v":0.4},{"x":86.5,"t":1997.3,"v":1.2},{"x":89.5,"t":1997.3,"v":0.4},{"x":92.5,"t":1997.3,"v":1.2},{"x":95.5,"t":1997.3,"v":0.4},{"x":98.5,"t":1997.3,"v":0.4},{"x":101.5,"t":1997.3,"v":-0.4},{"x":104.5,"t":1997.3,"v":-0.4},{"x":107.5,"t":1997.3,"v":-1.2},{"x":110.5,"t":1997.3,"v":-2},{"x":113.5,"t":1997.3,"v":-2},
{"x":56.5,"t":1996.8,"v":-3.6},{"x":59.5,"t":1996.8,"v":-3.6},{"x":62.5,"t":1996.8,"v":-4.4},{"x":65.5,"t":1996.8,"v":-5.2},{"x":68.5,"t":1996.8,"v":-3.6},{"x":71.5,"t":1996.8,"v":-3.6},{"x":74.5,"t":1996.8,"v":-3.6},{"x":77.5,"t":1996.8,"v":-2.8},{"x":80.5,"t":1996.8,"v":-2},{"x":83.5,"t":1996.8,"v":-1.2},{"x":86.5,"t":1996.8,"v":-0.4},{"x":89.5,"t":1996.8,"v":1.2},{"x":92.5,"t":1996.8,"v":1.2},{"x":95.5,"t":1996.8,"v":1.2},{"x":98.5,"t":1996.8,"v":1.2},{"x":101.5,"t":1996.8,"v":0.4},{"x":104.5,"t":1996.8,"v":0.4},{"x":107.5,"t":1996.8,"v":1.2},{"x":110.5,"t":1996.8,"v":0.4},{"x":113.5,"t":1996.8,"v":0.4},
{"x":56.5,"t":1996.3,"v":-1.2},{"x":59.5,"t":1996.3,"v":-2},{"x":62.5,"t":1996.3,"v":-2.8},{"x":65.5,"t":1996.3,"v":-2.8},{"x":68.5,"t":1996.3,"v":-3.6},{"x":71.5,"t":1996.3,"v":-2.8},{"x":74.5,"t":1996.3,"v":-2.8},{"x":77.5,"t":1996.3,"v":-2},{"x":80.5,"t":1996.3,"v":-2},{"x":83.5,"t":1996.3,"v":-2},{"x":86.5,"t":1996.3,"v":-0.4},{"x":89.5,"t":1996.3,"v":0.4},{"x":92.5,"t":1996.3,"v":0.4},{"x":95.5,"t":1996.3,"v":0.4},{"x":98.5,"t":1996.3,"v":0.4},{"x":101.5,"t":1996.3,"v":0.4},{"x":104.5,"t":1996.3,"v":0.4},{"x":107.5,"t":1996.3,"v":1.2},{"x":110.5,"t":1996.3,"v":0.4},{"x":113.5,"t":1996.3,"v":0.4},
{"x":56.5,"t":1995.8,"v":0.4},{"x":59.5,"t":1995.8,"v":-0.4},{"x":62.5,"t":1995.8,"v":-0.4},{"x":65.5,"t":1995.8,"v":-1.2},{"x":68.5,"t":1995.8,"v":-1.2},{"x":71.5,"t":1995.8,"v":-1.2},{"x":74.5,"t":1995.8,"v":-2},{"x":77.5,"t":1995.8,"v":-2},{"x":80.5,"t":1995.8,"v":-2.8},{"x":83.5,"t":1995.8,"v":-2},{"x":86.5,"t":1995.8,"v":-2},{"x":89.5,"t":1995.8,"v":-1.2},{"x":92.5,"t":1995.8,"v":-0.4},{"x":95.5,"t":1995.8,"v":-1.2},{"x":98.5,"t":1995.8,"v":-1.2},{"x":101.5,"t":1995.8,"v":-1.2},{"x":104.5,"t":1995.8,"v":-1.2},{"x":107.5,"t":1995.8,"v":-2},{"x":110.5,"t":1995.8,"v":-2},{"x":113.5,"t":1995.8,"v":-2},
{"x":56.5,"t":1995.3,"v":1.2},{"x":59.5,"t":1995.3,"v":1.2},{"x":62.5,"t":1995.3,"v":0.4},{"x":65.5,"t":1995.3,"v":0.4},{"x":68.5,"t":1995.3,"v":0.4},{"x":71.5,"t":1995.3,"v":0.4},{"x":74.5,"t":1995.3,"v":0.4},{"x":77.5,"t":1995.3,"v":-0.4},{"x":80.5,"t":1995.3,"v":-2},{"x":83.5,"t":1995.3,"v":-2},{"x":86.5,"t":1995.3,"v":-2},{"x":89.5,"t":1995.3,"v":-2},{"x":92.5,"t":1995.3,"v":-2.8},{"x":95.5,"t":1995.3,"v":-2},{"x":98.5,"t":1995.3,"v":-2.8},{"x":101.5,"t":1995.3,"v":-2.8},{"x":104.5,"t":1995.3,"v":-2.8},{"x":107.5,"t":1995.3,"v":-3.6},{"x":110.5,"t":1995.3,"v":-3.6},{"x":113.5,"t":1995.3,"v":-3.6},
{"x":56.5,"t":1994.8,"v":1.2},{"x":59.5,"t":1994.8,"v":1.2},{"x":62.5,"t":1994.8,"v":2},{"x":65.5,"t":1994.8,"v":2},{"x":68.5,"t":1994.8,"v":1.2},{"x":71.5,"t":1994.8,"v":2},{"x":74.5,"t":1994.8,"v":2},{"x":77.5,"t":1994.8,"v":1.2},{"x":80.5,"t":1994.8,"v":2},{"x":83.5,"t":1994.8,"v":1.2},{"x":86.5,"t":1994.8,"v":1.2},{"x":89.5,"t":1994.8,"v":0.4},{"x":92.5,"t":1994.8,"v":-0.4},{"x":95.5,"t":1994.8,"v":-0.4},{"x":98.5,"t":1994.8,"v":-1.2},{"x":101.5,"t":1994.8,"v":-2},{"x":104.5,"t":1994.8,"v":-2},{"x":107.5,"t":1994.8,"v":-3.6},{"x":110.5,"t":1994.8,"v":-5.2},{"x":113.5,"t":1994.8,"v":-3.6},
{"x":56.5,"t":1994.3,"v":-0.4},{"x":59.5,"t":1994.3,"v":-0.4},{"x":62.5,"t":1994.3,"v":-0.4},{"x":65.5,"t":1994.3,"v":0.4},{"x":68.5,"t":1994.3,"v":0.4},{"x":71.5,"t":1994.3,"v":0.4},{"x":74.5,"t":1994.3,"v":0.4},{"x":77.5,"t":1994.3,"v":1.2},{"x":80.5,"t":1994.3,"v":1.2},{"x":83.5,"t":1994.3,"v":1.2},{"x":86.5,"t":1994.3,"v":1.2},{"x":89.5,"t":1994.3,"v":1.2},{"x":92.5,"t":1994.3,"v":-0.4},{"x":95.5,"t":1994.3,"v":-0.4},{"x":98.5,"t":1994.3,"v":-0.4},{"x":101.5,"t":1994.3,"v":-2},{"x":104.5,"t":1994.3,"v":-2.8},{"x":107.5,"t":1994.3,"v":-3.6},{"x":110.5,"t":1994.3,"v":-3.6},{"x":113.5,"t":1994.3,"v":-2.8},
{"x":56.5,"t":1993.8,"v":-2},{"x":59.5,"t":1993.8,"v":-2},{"x":62.5,"t":1993.8,"v":-0.4},{"x":65.5,"t":1993.8,"v":-0.4},{"x":68.5,"t":1993.8,"v":-1.2},{"x":71.5,"t":1993.8,"v":-0.4},{"x":74.5,"t":1993.8,"v":-0.4},{"x":77.5,"t":1993.8,"v":0.4},{"x":80.5,"t":1993.8,"v":0.4},{"x":83.5,"t":1993.8,"v":1.2},{"x":86.5,"t":1993.8,"v":1.2},{"x":89.5,"t":1993.8,"v":0.4},{"x":92.5,"t":1993.8,"v":-0.4},{"x":95.5,"t":1993.8,"v":-0.4},{"x":98.5,"t":1993.8,"v":-1.2},{"x":101.5,"t":1993.8,"v":-2},{"x":104.5,"t":1993.8,"v":-3.6},{"x":107.5,"t":1993.8,"v":-5.2},{"x":110.5,"t":1993.8,"v":-5.2},{"x":113.5,"t":1993.8,"v":-4.4},
{"x":56.5,"t":1993.3,"v":-0.4},{"x":59.5,"t":1993.3,"v":-0.4},{"x":62.5,"t":1993.3,"v":-1.2},{"x":65.5,"t":1993.3,"v":-1.2},{"x":68.5,"t":1993.3,"v":-1.2},{"x":71.5,"t":1993.3,"v":-2},{"x":74.5,"t":1993.3,"v":-2},{"x":77.5,"t":1993.3,"v":-2},{"x":80.5,"t":1993.3,"v":0.4},{"x":83.5,"t":1993.3,"v":1.2},{"x":86.5,"t":1993.3,"v":0.4},{"x":89.5,"t":1993.3,"v":0.4},{"x":92.5,"t":1993.3,"v":0.4},{"x":95.5,"t":1993.3,"v":0.4},{"x":98.5,"t":1993.3,"v":-1.2},{"x":101.5,"t":1993.3,"v":-2},{"x":104.5,"t":1993.3,"v":-3.6},{"x":107.5,"t":1993.3,"v":-6},{"x":110.5,"t":1993.3,"v":-6.8},{"x":113.5,"t":1993.3,"v":-7.6}
],"cbar":[{"lo":-8,"hi":-7.2,"v":-7.6},{"lo":-7.2,"hi":-6.4,"v":-6.8},{"lo":-6.4,"hi":-5.6,"v":-6},{"lo":-5.6,"hi":-4.8,"v":-5.2},{"lo":-4.8,"hi":-4,"v":-4.4},{"lo":-4,"hi":-3.2,"v":-3.6},{"lo":-3.2,"hi":-2.4,"v":-2.8},{"lo":-2.4,"hi":-1.6,"v":-2},{"lo":-1.6,"hi":-0.8,"v":-1.2},{"lo":-0.8,"hi":0,"v":-0.4},{"lo":0,"hi":0.8,"v":0.4},{"lo":0.8,"hi":1.6,"v":1.2},{"lo":1.6,"hi":2.4,"v":2},{"lo":2.4,"hi":3.2,"v":2.8},{"lo":3.2,"hi":4,"v":3.6},{"lo":4,"hi":4.8,"v":4.4},{"lo":4.8,"hi":5.6,"v":5.2},{"lo":5.6,"hi":6.4,"v":6},{"lo":6.4,"hi":7.2,"v":6.8},{"lo":7.2,"hi":8,"v":7.6}],
"mei":[{"t":1993,"mei":1.17},{"t":1993.5,"mei":0.84},{"t":1994,"mei":0.49},{"t":1994.2,"mei":0.46},{"t":1994.5,"mei":0.49},{"t":1994.8,"mei":0.54},{"t":1995,"mei":0.53},{"t":1995.3,"mei":0.34},{"t":1995.6,"mei":0},{"t":1996,"mei":-0.5},{"t":1996.3,"mei":-0.67},{"t":1996.6,"mei":-0.6},{"t":1996.9,"mei":-0.25},{"t":1997.2,"mei":0},{"t":1997.5,"mei":0.54},{"t":1997.8,"mei":1.39},{"t":1997.95,"mei":1.7},{"t":1998.2,"mei":1.39},{"t":1998.5,"mei":0.6},{"t":1998.8,"mei":0},{"t":1999.1,"mei":-0.65},{"t":1999.4,"mei":-1.22},{"t":1999.6,"mei":-1.24},{"t":2000,"mei":-1.12},{"t":2000.5,"mei":-0.88},{"t":2001,"mei":-0.6},{"t":2001.4,"mei":-0.4},{"t":2001.8,"mei":-0.18},{"t":2002.1,"mei":0},{"t":2002.5,"mei":0.29},{"t":2002.8,"mei":0.41},{"t":2003,"mei":0.43},{"t":2003.3,"mei":0.34},{"t":2003.6,"mei":0.12},{"t":2003.8,"mei":0},{"t":2004.3,"mei":0.1},{"t":2005,"mei":0.29},{"t":2005.4,"mei":0.1},{"t":2005.57,"mei":0},{"t":2005.98,"mei":-0.31},{"t":2006.3,"mei":-0.13},{"t":2006.55,"mei":0},{"t":2006.85,"mei":0.11},{"t":2007.1,"mei":0},{"t":2007.5,"mei":-0.4},{"t":2007.8,"mei":-1},{"t":2008.2,"mei":-1.1},{"t":2008.6,"mei":-0.98},{"t":2009,"mei":-0.55},{"t":2009.3,"mei":-0.1},{"t":2009.4,"mei":0},{"t":2009.75,"mei":0.28},{"t":2010,"mei":0.1},{"t":2010.15,"mei":0},{"t":2010.4,"mei":-0.45},{"t":2010.7,"mei":-1.35},{"t":2011,"mei":-1.65},{"t":2011.4,"mei":-1.4},{"t":2011.9,"mei":-0.85},{"t":2012.4,"mei":-0.4},{"t":2012.8,"mei":-0.25},{"t":2013.2,"mei":-0.33},{"t":2013.6,"mei":-0.39},{"t":2014,"mei":-0.25},{"t":2014.5,"mei":-0.03},{"t":2014.6,"mei":0},{"t":2015,"mei":0.29},{"t":2015.4,"mei":1.14},{"t":2015.9,"mei":1.48},{"t":2016.2,"mei":1.24},{"t":2016.6,"mei":0.29},{"t":2016.8,"mei":0},{"t":2017,"mei":-0.35},{"t":2017.4,"mei":-0.58},{"t":2017.8,"mei":-0.62},{"t":2018.2,"mei":-0.4},{"t":2018.6,"mei":-0.1},{"t":2018.7,"mei":0},{"t":2019.3,"mei":0.5},{"t":2020,"mei":0.88}],
"zero":[{"z":0}],
"lb":[{"t":1994.28,"m":-1.49,"l":"B"},{"t":2007.28,"m":-1.76,"l":"WSIO"}],
"lc":[{"t":1994.28,"m":-1.49,"l":"C"},{"t":2007.55,"m":-1.76,"l":"ESIO"}],
"b":[{"s":"k","t":1993,"v":-1.51},{"s":"k","t":1993.5,"v":-1.26},{"s":"k","t":1994,"v":-0.73},{"s":"k","t":1994.25,"v":0},{"s":"k","t":1994.5,"v":0.39},{"s":"k","t":1994.75,"v":0.46},{"s":"k","t":1995,"v":0.24},{"s":"k","t":1995.25,"v":-0.73},{"s":"k","t":1995.5,"v":-1.78},{"s":"k","t":1995.75,"v":-2.45},{"s":"k","t":1996,"v":-3.14},{"s":"k","t":1996.5,"v":-3.65},{"s":"k","t":1996.8,"v":-3.8},{"s":"k","t":1997,"v":-3.72},{"s":"k","t":1997.3,"v":-2.83},{"s":"k","t":1997.6,"v":-1.18},{"s":"k","t":1997.8,"v":-0.66},{"s":"k","t":1997.95,"v":-0.48},{"s":"k","t":1998.2,"v":-0.88},{"s":"k","t":1998.5,"v":-2.08},{"s":"k","t":1998.8,"v":-3.57},{"s":"k","t":1999,"v":-4.47},{"s":"k","t":1999.3,"v":-4.92},{"s":"k","t":1999.7,"v":-5.14},{"s":"k","t":2000,"v":-5.22},{"s":"k","t":2000.5,"v":-5.14},{"s":"k","t":2000.8,"v":-4.47},{"s":"k","t":2001.1,"v":-2.97},{"s":"k","t":2001.4,"v":-1.33},{"s":"k","t":2001.7,"v":-0.43},{"s":"k","t":2002,"v":0},{"s":"k","t":2002.3,"v":0.39},{"s":"k","t":2002.6,"v":0.69},{"s":"k","t":2002.85,"v":0.81},{"s":"k","t":2003.1,"v":0.69},{"s":"k","t":2003.5,"v":0.16},{"s":"k","t":2003.8,"v":-0.43},{"s":"k","t":2004.05,"v":-1.03},{"s":"k","t":2004.3,"v":-1.23},{"s":"k","t":2004.6,"v":-0.88},{"s":"k","t":2004.95,"v":-0.28},{"s":"k","t":2005.4,"v":0.09},{"s":"k","t":2005.75,"v":-0.06},{"s":"k","t":2006.1,"v":-0.43},{"s":"k","t":2006.45,"v":-0.13},{"s":"k","t":2006.8,"v":0.39},{"s":"k","t":2007.15,"v":0.54},{"s":"k","t":2007.45,"v":0.16},{"s":"k","t":2007.8,"v":-0.73},{"s":"k","t":2008.15,"v":-1.1},{"s":"k","t":2008.4,"v":-1.13},{"s":"k","t":2008.8,"v":-0.43},{"s":"k","t":2009.2,"v":0.54},{"s":"k","t":2009.65,"v":1.66},{"s":"k","t":2010.1,"v":2.03},{"s":"k","t":2010.4,"v":1.36},{"s":"k","t":2010.65,"v":-0.43},{"s":"k","t":2011,"v":-1.7},{"s":"k","t":2011.4,"v":-2.15},{"s":"k","t":2011.7,"v":-1.78},{"s":"k","t":2012.05,"v":-1.25},{"s":"k","t":2012.6,"v":-1.48},{"s":"k","t":2012.95,"v":-1.03},{"s":"k","t":2013.4,"v":0.31},{"s":"k","t":2013.85,"v":2.11},{"s":"k","t":2014.3,"v":2.83},{"s":"k","t":2014.65,"v":2.26},{"s":"k","t":2015.1,"v":0.61},{"s":"k","t":2015.55,"v":-0.13},{"s":"k","t":2016,"v":-1.18},{"s":"k","t":2016.35,"v":-2.53},{"s":"k","t":2016.6,"v":-2.83},{"s":"k","t":2017,"v":-2.38},{"s":"k","t":2017.25,"v":-0.43},{"s":"k","t":2017.6,"v":1.21},{"s":"k","t":2017.95,"v":1.73},{"s":"k","t":2018.2,"v":1.51},{"s":"k","t":2018.5,"v":1.06},{"s":"k","t":2018.95,"v":1.36},{"s":"k","t":2019.5,"v":1.84},
{"s":"b","t":2004.05,"v":-0.36},{"s":"b","t":2004.5,"v":-0.16},{"s":"b","t":2005.05,"v":0.01},{"s":"b","t":2005.55,"v":0.09},{"s":"b","t":2005.9,"v":0.01},{"s":"b","t":2006.2,"v":0.46},{"s":"b","t":2006.7,"v":1.03},{"s":"b","t":2007.2,"v":0.69},{"s":"b","t":2007.6,"v":-0.28},{"s":"b","t":2008.05,"v":-1.03},{"s":"b","t":2008.35,"v":-1.03},{"s":"b","t":2008.8,"v":-0.13},{"s":"b","t":2009.3,"v":0.54},{"s":"b","t":2009.75,"v":0.91},{"s":"b","t":2010.1,"v":1.21},{"s":"b","t":2010.4,"v":0.91},{"s":"b","t":2010.75,"v":-0.43},{"s":"b","t":2011.1,"v":-1.18},{"s":"b","t":2011.3,"v":-1.38},{"s":"b","t":2011.7,"v":-0.88},{"s":"b","t":2012.15,"v":-0.51},{"s":"b","t":2012.7,"v":-0.51},{"s":"b","t":2013.15,"v":-0.06},{"s":"b","t":2013.6,"v":1.21},{"s":"b","t":2014.2,"v":2.08},{"s":"b","t":2014.65,"v":1.51},{"s":"b","t":2015.2,"v":0.39},{"s":"b","t":2015.75,"v":-0.13},{"s":"b","t":2016.1,"v":-1.63},{"s":"b","t":2016.45,"v":-2.83},{"s":"b","t":2016.65,"v":-3.27},{"s":"b","t":2017,"v":-2.53},{"s":"b","t":2017.35,"v":-0.43},{"s":"b","t":2017.7,"v":0.69},{"s":"b","t":2018.05,"v":1.09},{"s":"b","t":2018.5,"v":0.99},{"s":"b","t":2018.95,"v":0.91},{"s":"b","t":2019.4,"v":0.99},
{"s":"r","t":2004.05,"v":-0.88},{"s":"r","t":2004.5,"v":-0.7},{"s":"r","t":2005.05,"v":-0.4},{"s":"r","t":2005.55,"v":-0.43},{"s":"r","t":2006,"v":0.01},{"s":"r","t":2006.45,"v":1.06},{"s":"r","t":2007,"v":1.63},{"s":"r","t":2007.35,"v":1.21},{"s":"r","t":2007.9,"v":0.09},{"s":"r","t":2008.4,"v":-0.18},{"s":"r","t":2008.85,"v":0.24},{"s":"r","t":2009.4,"v":0.54},{"s":"r","t":2010.1,"v":0.99},{"s":"r","t":2010.45,"v":0.54},{"s":"r","t":2010.8,"v":-0.73},{"s":"r","t":2011.25,"v":-1.26},{"s":"r","t":2011.7,"v":-1.03},{"s":"r","t":2012.15,"v":-0.7},{"s":"r","t":2012.7,"v":-0.76},{"s":"r","t":2013.2,"v":-0.13},{"s":"r","t":2013.75,"v":1.21},{"s":"r","t":2014.2,"v":1.84},{"s":"r","t":2014.65,"v":1.06},{"s":"r","t":2015.1,"v":-0.13},{"s":"r","t":2015.65,"v":-0.73},{"s":"r","t":2016,"v":-1.78},{"s":"r","t":2016.35,"v":-3.27},{"s":"r","t":2016.7,"v":-3.84},{"s":"r","t":2017,"v":-3.27},{"s":"r","t":2017.35,"v":-0.58},{"s":"r","t":2017.7,"v":1.21},{"s":"r","t":2018.15,"v":1.69},{"s":"r","t":2018.8,"v":1.61},{"s":"r","t":2019.4,"v":1.61},
{"s":"g","t":2004.05,"v":0.51},{"s":"g","t":2004.7,"v":0.39},{"s":"g","t":2005.75,"v":0.39},{"s":"g","t":2006.3,"v":-0.13},{"s":"g","t":2007,"v":-0.88},{"s":"g","t":2007.7,"v":-1.08},{"s":"g","t":2008.25,"v":-0.81},{"s":"g","t":2008.95,"v":-0.13},{"s":"g","t":2009.65,"v":0.19},{"s":"g","t":2010.4,"v":0.31},{"s":"g","t":2010.9,"v":0.01},{"s":"g","t":2011.4,"v":-0.13},{"s":"g","t":2012,"v":0.16},{"s":"g","t":2012.5,"v":0.27},{"s":"g","t":2013.25,"v":0.13},{"s":"g","t":2014.1,"v":0.24},{"s":"g","t":2015,"v":0.39},{"s":"g","t":2015.55,"v":0.61},{"s":"g","t":2016.2,"v":0.76},{"s":"g","t":2016.8,"v":0.39},{"s":"g","t":2017.4,"v":-0.28},{"s":"g","t":2018.05,"v":-0.61},{"s":"g","t":2018.75,"v":-0.7},{"s":"g","t":2019.4,"v":-0.61}],
"c":[{"s":"k","t":1993,"v":-3.49},{"s":"k","t":1993.5,"v":-2.96},{"s":"k","t":1994,"v":-2.44},{"s":"k","t":1994.25,"v":-2.11},{"s":"k","t":1994.5,"v":-2.44},{"s":"k","t":1995,"v":-3.19},{"s":"k","t":1995.2,"v":-3.29},{"s":"k","t":1995.5,"v":-2.74},{"s":"k","t":1995.8,"v":-1.54},{"s":"k","t":1996,"v":-0.04},{"s":"k","t":1996.3,"v":1},{"s":"k","t":1996.6,"v":1.41},{"s":"k","t":1996.9,"v":0.85},{"s":"k","t":1997.2,"v":-0.34},{"s":"k","t":1997.5,"v":-1.99},{"s":"k","t":1997.8,"v":-3.49},{"s":"k","t":1998.05,"v":-4.01},{"s":"k","t":1998.3,"v":-3.34},{"s":"k","t":1998.6,"v":-1.84},{"s":"k","t":1998.9,"v":-0.34},{"s":"k","t":1999.2,"v":1.45},{"s":"k","t":1999.5,"v":1.93},{"s":"k","t":1999.9,"v":1.98},{"s":"k","t":2000.2,"v":2.43},{"s":"k","t":2000.7,"v":3.02},{"s":"k","t":2001.05,"v":3.4},{"s":"k","t":2001.4,"v":2.95},{"s":"k","t":2001.8,"v":2.77},{"s":"k","t":2002.1,"v":2.2},{"s":"k","t":2002.72,"v":1},{"s":"k","t":2002.99,"v":-0.64},{"s":"k","t":2003.43,"v":-2.22},{"s":"k","t":2003.7,"v":-2.51},{"s":"k","t":2004.2,"v":-2.74},{"s":"k","t":2004.65,"v":-2.54},{"s":"k","t":2005.2,"v":-2.77},{"s":"k","t":2005.65,"v":-2.44},{"s":"k","t":2006.3,"v":-1.96},{"s":"k","t":2006.75,"v":-2.22},{"s":"k","t":2007.1,"v":-2.74},{"s":"k","t":2007.45,"v":-2.71},{"s":"k","t":2007.8,"v":-1.54},{"s":"k","t":2008.25,"v":0.4},{"s":"k","t":2008.7,"v":1.98},{"s":"k","t":2009.15,"v":2.13},{"s":"k","t":2009.6,"v":1.75},{"s":"k","t":2010.05,"v":1.38},{"s":"k","t":2010.4,"v":1.75},{"s":"k","t":2010.85,"v":3.1},{"s":"k","t":2011.15,"v":3.7},{"s":"k","t":2011.45,"v":3.89},{"s":"k","t":2012,"v":3.74},{"s":"k","t":2012.6,"v":3.67},{"s":"k","t":2013.05,"v":3.44},{"s":"k","t":2013.5,"v":3.62},{"s":"k","t":2014.05,"v":3.1},{"s":"k","t":2014.5,"v":2.05},{"s":"k","t":2015,"v":0.4},{"s":"k","t":2015.45,"v":-1.24},{"s":"k","t":2015.8,"v":-2.44},{"s":"k","t":2016.2,"v":-2.86},{"s":"k","t":2016.6,"v":-2.44},{"s":"k","t":2017,"v":-1.47},{"s":"k","t":2017.35,"v":-1.09},{"s":"k","t":2017.8,"v":-1.24},{"s":"k","t":2018.4,"v":-1.77},{"s":"k","t":2018.95,"v":-1.99},{"s":"k","t":2019.5,"v":-2.22},
{"s":"b","t":2004.05,"v":-0.99},{"s":"b","t":2004.6,"v":-1.17},{"s":"b","t":2005.1,"v":-1.36},{"s":"b","t":2005.55,"v":-1.17},{"s":"b","t":2006.1,"v":-1.09},{"s":"b","t":2006.55,"v":-1.69},{"s":"b","t":2007,"v":-2.89},{"s":"b","t":2007.35,"v":-3.19},{"s":"b","t":2007.7,"v":-2.74},{"s":"b","t":2008.15,"v":-0.34},{"s":"b","t":2008.6,"v":1.6},{"s":"b","t":2009.05,"v":2.08},{"s":"b","t":2009.6,"v":1.75},{"s":"b","t":2010.1,"v":0.66},{"s":"b","t":2010.5,"v":1.3},{"s":"b","t":2010.85,"v":2.5},{"s":"b","t":2011.2,"v":3.47},{"s":"b","t":2011.55,"v":2.87},{"s":"b","t":2012,"v":2.02},{"s":"b","t":2012.3,"v":1.9},{"s":"b","t":2012.75,"v":2.5},{"s":"b","t":2013.2,"v":2.8},{"s":"b","t":2013.5,"v":3.1},{"s":"b","t":2014.15,"v":2.35},{"s":"b","t":2014.6,"v":1.15},{"s":"b","t":2015.1,"v":-0.34},{"s":"b","t":2015.65,"v":-1.99},{"s":"b","t":2016.05,"v":-2.56},{"s":"b","t":2016.45,"v":-1.69},{"s":"b","t":2016.9,"v":-0.57},{"s":"b","t":2017.15,"v":-0.37},{"s":"b","t":2017.5,"v":-0.79},{"s":"b","t":2017.95,"v":-1.24},{"s":"b","t":2018.5,"v":-1.77},{"s":"b","t":2019,"v":-2.14},{"s":"b","t":2019.4,"v":-2.59},
{"s":"r","t":2004.05,"v":-1.69},{"s":"r","t":2004.6,"v":-1.62},{"s":"r","t":2005.1,"v":-1.62},{"s":"r","t":2005.55,"v":-1.17},{"s":"r","t":2006.1,"v":-1.02},{"s":"r","t":2006.45,"v":-1.32},{"s":"r","t":2006.9,"v":-1.92},{"s":"r","t":2007.3,"v":-2.22},{"s":"r","t":2007.7,"v":-1.77},{"s":"r","t":2008.15,"v":-0.04},{"s":"r","t":2008.6,"v":1.75},{"s":"r","t":2009.05,"v":2.17},{"s":"r","t":2009.6,"v":1.75},{"s":"r","t":2010.1,"v":1.3},{"s":"r","t":2010.5,"v":1.9},{"s":"r","t":2010.85,"v":2.95},{"s":"r","t":2011.2,"v":3.58},{"s":"r","t":2011.65,"v":2.35},{"s":"r","t":2012,"v":1.53},{"s":"r","t":2012.4,"v":1.15},{"s":"r","t":2012.85,"v":1.53},{"s":"r","t":2013.2,"v":1.68},{"s":"r","t":2013.5,"v":2.08},{"s":"r","t":2014.15,"v":1.6},{"s":"r","t":2014.6,"v":0.55},{"s":"r","t":2015.1,"v":-0.64},{"s":"r","t":2015.55,"v":-1.99},{"s":"r","t":2016,"v":-2.74},{"s":"r","t":2016.35,"v":-2.29},{"s":"r","t":2016.8,"v":-0.94},{"s":"r","t":2017.25,"v":-0.46},{"s":"r","t":2017.7,"v":-0.87},{"s":"r","t":2018.05,"v":-0.94},{"s":"r","t":2018.5,"v":-1.14},{"s":"r","t":2018.95,"v":-1.02},{"s":"r","t":2019.4,"v":-0.94},
{"s":"g","t":2004.05,"v":0.67},{"s":"g","t":2004.65,"v":0.43},{"s":"g","t":2005.55,"v":-0.04},{"s":"g","t":2006.35,"v":-0.19},{"s":"g","t":2007,"v":-0.79},{"s":"g","t":2007.5,"v":-1.05},{"s":"g","t":2008.05,"v":-0.57},{"s":"g","t":2009.15,"v":-0.04},{"s":"g","t":2009.65,"v":-0.42},{"s":"g","t":2010.3,"v":-0.75},{"s":"g","t":2010.9,"v":-0.27},{"s":"g","t":2011.8,"v":0.33},{"s":"g","t":2012.5,"v":1},{"s":"g","t":2013.15,"v":1.18},{"s":"g","t":2013.75,"v":0.93},{"s":"g","t":2014.5,"v":0.55},{"s":"g","t":2015.2,"v":0.4},{"s":"g","t":2016.1,"v":0.22},{"s":"g","t":2016.9,"v":0.37},{"s":"g","t":2017.5,"v":-0.12},{"s":"g","t":2018.4,"v":-0.52},{"s":"g","t":2018.95,"v":-1.02},{"s":"g","t":2019.5,"v":-1.72}]},
"hconcat":[{"bounds":"flush","spacing":9,"hconcat":[{"width":360,"height":589,"resolve":{"axis":{"x":"independent","y":"independent"}},"layer":[{"data":{"name":"heat"},"mark":{"type":"rect","width":18.6,"height":11.6,"clip":true},"encoding":{"x":{"field":"x","type":"quantitative","scale":{"domain":[55,115],"nice":false,"zero":false},"axis":{"values":[60,70,80,90,100,110],"labelExpr":"datum.value+'°E'","title":null,"grid":true,"gridColor":"#555","gridOpacity":0.3,"zindex":1,"labelOffset":10,"labelPadding":16}},"y":{"field":"t","type":"quantitative","scale":{"domain":[1993,2020],"nice":false,"zero":false},"axis":{"values":[1995,2000,2005,2010,2015,2020],"format":"d","title":"Time (year)","titleY":298,"grid":true,"gridColor":"#555","gridOpacity":0.3,"zindex":1,"titlePadding":6,"labelPadding":14}},"color":{"field":"v","type":"quantitative","legend":null,"scale":{"type":"quantize","domain":[-8,8],"range":["#000099","#0000cc","#0000ff","#0033ff","#0066ff","#0099ff","#00ccff","#00ffff","#33ffcc","#66ff99","#99ff66","#ccff33","#ffff00","#ffcc00","#ff9900","#ff6600","#ff3300","#ff0000","#cc0000","#990000"]}}}},{"data":{"values":[{"x":90,"a":1993,"b":2020}]},"mark":{"type":"rule","color":"black","strokeWidth":3,"strokeDash":[7,5]},"encoding":{"x":{"field":"x","type":"quantitative","axis":{"orient":"top","values":[60,70,80,90,100,110],"labels":false,"title":null,"grid":false,"zindex":1}},"y":{"field":"a","type":"quantitative","axis":{"orient":"right","values":[1995,2000,2005,2010,2015,2020],"labels":false,"title":null,"grid":false,"zindex":1}},"y2":{"field":"b"}}},{"data":{"values":[{"x":72.5,"t":2020.66,"l":"WSIO"},{"x":103.5,"t":2020.66,"l":"ESIO"},{"x":59,"t":2018.4,"l":"A"}]},"mark":{"type":"text","font":"Liberation Sans","fontWeight":"bold","fontSize":22,"color":"black"},"encoding":{"x":{"field":"x","type":"quantitative","axis":null},"y":{"field":"t","type":"quantitative","axis":null},"text":{"field":"l"}}}]},{"width":18,"height":589,"data":{"name":"cbar"},"mark":"rect","encoding":{"y":{"field":"lo","type":"quantitative","scale":{"domain":[-8,8],"nice":false},"axis":{"orient":"right","values":[-8,-6,-4,-2,0,2,4,6,8],"title":"Sea level (cm)","titleFontSize":23.5,"titleAngle":270,"titleBaseline":"top","labelFontSize":24,"tickSize":-5,"labelPadding":12,"titlePadding":5,"zindex":1}},"y2":{"field":"hi"},"color":{"field":"v","type":"quantitative","legend":null,"scale":{"type":"quantize","domain":[-8,8],"range":["#000099","#0000cc","#0000ff","#0033ff","#0066ff","#0099ff","#00ccff","#00ffff","#33ffcc","#66ff99","#99ff66","#ccff33","#ffff00","#ffcc00","#ff9900","#ff6600","#ff3300","#ff0000","#cc0000","#990000"]}}}}]},{"bounds":"flush","spacing":55,"vconcat":[
{"width":504,"height":267,"resolve":{"scale":{"y":"independent"}},"layer":[{"data":{"name":"mei"},"transform":[{"filter":"datum.mei>=0"}],"mark":{"type":"area","interpolate":"monotone","color":"#4db8ec","opacity":1,"line":{"color":"#4a6ff0","strokeWidth":0.8}},"encoding":{"x":{"field":"t","type":"quantitative","scale":{"domain":[1993,2020],"nice":false,"zero":false},"axis":{"values":[1995,2000,2005,2010,2015,2020],"format":"d","title":null,"grid":true,"gridColor":"#d4d4d4","labelPadding":12}},"y":{"field":"mei","type":"quantitative","scale":{"domain":[2,-2],"nice":false},"axis":{"values":[-2,-1,0,1,2],"title":"MEI","grid":true,"gridColor":"#d4d4d4","tickSize":0,"labelPadding":9,"titleFontSize":23,"titlePadding":0}},"y2":{"datum":0}}},{"data":{"name":"mei"},"transform":[{"filter":"datum.mei<=0"}],"mark":{"type":"area","interpolate":"monotone","color":"#ff8080","opacity":1,"line":{"color":"#ff6060","strokeWidth":0.8}},"encoding":{"x":{"field":"t","type":"quantitative"},"y":{"field":"mei","type":"quantitative","scale":{"domain":[2,-2],"nice":false},"axis":null},"y2":{"datum":0}}},{"data":{"name":"zero"},"mark":{"type":"rule","color":"#ff5050","strokeWidth":1.2},"encoding":{"y":{"field":"z","type":"quantitative","scale":{"domain":[2,-2],"nice":false},"axis":null}}},{"data":{"name":"b"},"mark":{"type":"line","interpolate":"monotone","strokeWidth":3.5},"encoding":{"x":{"field":"t","type":"quantitative"},"y":{"field":"v","type":"quantitative","scale":{"domain":[-6,6],"nice":false},"axis":{"orient":"right","values":[-6,-4,-2,0,2,4,6],"title":"Sea level (cm)","titleAngle":270,"titleBaseline":"top","labelPadding":13,"titlePadding":5}},"color":{"field":"s","type":"nominal","legend":null,"scale":{"domain":["k","b","r","g"],"range":["#000000","#0000ff","#ff0000","#00ee00"]}}}},{"data":{"name":"lb"},"mark":{"type":"text","font":"Liberation Sans","fontWeight":"bold","fontSize":22,"color":"black"},"encoding":{"x":{"field":"t","type":"quantitative"},"y":{"field":"m","type":"quantitative","scale":{"domain":[2,-2],"nice":false},"axis":null},"text":{"field":"l"}}}]},
{"width":504,"height":267,"resolve":{"scale":{"y":"independent"}},"layer":[{"data":{"name":"mei"},"transform":[{"filter":"datum.mei>=0"}],"mark":{"type":"area","interpolate":"monotone","color":"#4db8ec","opacity":1,"line":{"color":"#4a6ff0","strokeWidth":0.8}},"encoding":{"x":{"field":"t","type":"quantitative","scale":{"domain":[1993,2020],"nice":false,"zero":false},"axis":{"values":[1995,2000,2005,2010,2015,2020],"format":"d","title":"Time (year)","titlePadding":11,"grid":true,"gridColor":"#d4d4d4","labelPadding":12}},"y":{"field":"mei","type":"quantitative","scale":{"domain":[2,-2],"nice":false},"axis":{"values":[-2,-1,0,1,2],"title":"MEI","grid":true,"gridColor":"#d4d4d4","tickSize":0,"labelPadding":9,"titleFontSize":23,"titlePadding":0}},"y2":{"datum":0}}},{"data":{"name":"mei"},"transform":[{"filter":"datum.mei<=0"}],"mark":{"type":"area","interpolate":"monotone","color":"#ff8080","opacity":1,"line":{"color":"#ff6060","strokeWidth":0.8}},"encoding":{"x":{"field":"t","type":"quantitative"},"y":{"field":"mei","type":"quantitative","scale":{"domain":[2,-2],"nice":false},"axis":null},"y2":{"datum":0}}},{"data":{"name":"zero"},"mark":{"type":"rule","color":"#ff5050","strokeWidth":1.2},"encoding":{"y":{"field":"z","type":"quantitative","scale":{"domain":[2,-2],"nice":false},"axis":null}}},{"data":{"name":"c"},"mark":{"type":"line","interpolate":"monotone","strokeWidth":3.5},"encoding":{"x":{"field":"t","type":"quantitative"},"y":{"field":"v","type":"quantitative","scale":{"domain":[-6,6],"nice":false},"axis":{"orient":"right","values":[-6,-4,-2,0,2,4,6],"title":"Sea level (cm)","titleAngle":270,"titleBaseline":"top","labelPadding":13,"titlePadding":5}},"color":{"field":"s","type":"nominal","legend":null,"scale":{"domain":["k","b","r","g"],"range":["#000000","#0000ff","#ff0000","#00ee00"]}}}},{"data":{"name":"lc"},"mark":{"type":"text","font":"Liberation Sans","fontWeight":"bold","fontSize":22,"color":"black"},"encoding":{"x":{"field":"t","type":"quantitative"},"y":{"field":"m","type":"quantitative","scale":{"domain":[2,-2],"nice":false},"axis":null},"text":{"field":"l"}}}]}
]}]}
